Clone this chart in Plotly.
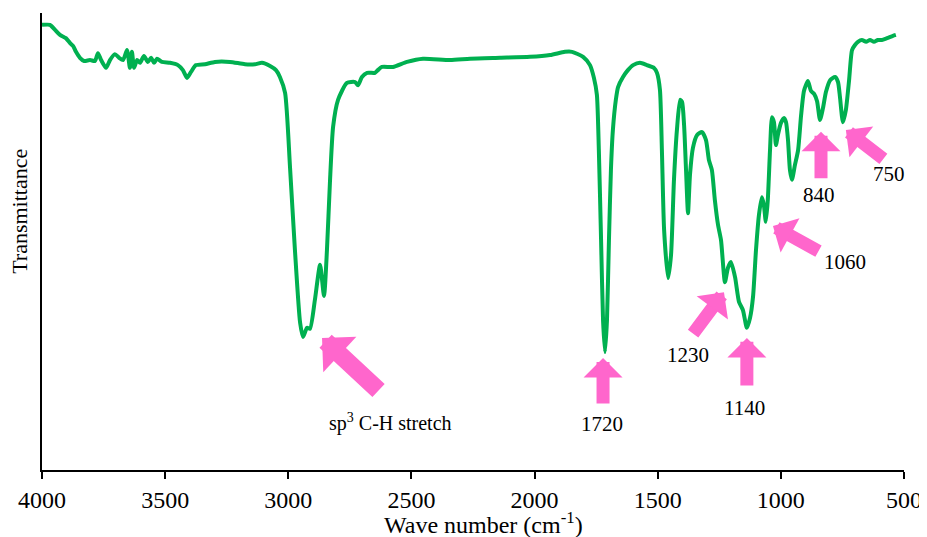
import plotly.graph_objects as go

# Spectrum: wave number (cm-1) and transmittance (arbitrary %)
wavenumber = [4000, 3968, 3947, 3927, 3903, 3886, 3874, 3862, 3846, 3829, 3805, 3785, 3773, 3760, 3740,
              3724, 3704, 3687, 3671, 3655, 3643, 3635, 3626, 3614, 3602, 3586, 3570, 3557, 3545, 3533,
              3513, 3480, 3448, 3428, 3411, 3395, 3375, 3338, 3298, 3237, 3176, 3135, 3107, 3074, 3050,
              3034, 3013, 2993, 2973, 2952, 2940, 2924, 2912, 2892, 2871, 2855, 2843, 2831, 2818, 2798,
              2762, 2729, 2717, 2701, 2680, 2648, 2636, 2620, 2575, 2518, 2453, 2343, 2262, 2140, 2019,
              1937, 1877, 1848, 1803, 1775, 1759, 1747, 1739, 1730, 1722, 1714, 1706, 1698, 1690, 1682,
              1670, 1661, 1641, 1621, 1600, 1572, 1544, 1515, 1503, 1491, 1483, 1474, 1458, 1446, 1434,
              1422, 1409, 1401, 1393, 1385, 1377, 1369, 1357, 1340, 1320, 1304, 1292, 1280, 1268, 1255,
              1243, 1227, 1215, 1203, 1186, 1170, 1154, 1138, 1125, 1113, 1101, 1089, 1077, 1069, 1061,
              1053, 1044, 1036, 1028, 1020, 1012, 1000, 987, 979, 971, 963, 955, 943, 930, 918,
              906, 890, 878, 865, 853, 841, 829, 817, 800, 780, 768, 760, 748, 736, 723,
              711, 699, 687, 671, 654, 638, 622, 606, 590, 569, 545, 533]
transmittance = [97.4, 97.4, 96.3, 95.2, 94.5, 93.4, 92.8, 91.5, 90.2, 89.5, 89.7, 89.5, 91.2, 89.7, 88.0,
                 89.7, 91.0, 90.2, 89.7, 91.9, 88.0, 91.5, 88.0, 89.7, 89.1, 90.6, 89.3, 90.2, 89.1, 90.0,
                 89.3, 89.1, 88.6, 87.5, 85.8, 87.1, 88.6, 88.8, 89.3, 89.3, 88.8, 88.8, 89.1, 88.4, 87.5,
                 86.0, 82.5, 66.3, 48.1, 32.2, 29.1, 31.1, 30.9, 37.2, 44.9, 38.1, 48.1, 62.8, 75.1, 81.0,
                 84.7, 84.9, 84.2, 86.0, 86.9, 86.9, 87.5, 88.2, 88.2, 89.3, 90.0, 89.7, 90.0, 90.2, 90.4,
                 90.8, 91.5, 91.5, 90.4, 88.6, 85.8, 82.1, 70.0, 50.3, 32.8, 25.8, 32.8, 50.3, 65.6, 74.4,
                 81.0, 83.8, 86.0, 87.5, 88.6, 89.1, 88.6, 87.97, 86.9, 83.2, 70.0, 52.5, 42.0, 47.0, 63.5,
                 74.4, 81.0, 80.5, 75.5, 65.6, 56.2, 64.6, 70.5, 73.3, 73.95, 72.2, 67.8, 65.6, 59.1, 53.6,
                 50.3, 41.1, 44.2, 45.5, 42.2, 36.8, 35.0, 31.1, 33.3, 37.9, 48.1, 55.8, 59.7, 58.0, 54.3,
                 59.1, 70.0, 77.2, 76.1, 71.1, 73.3, 75.9, 77.0, 76.1, 72.2, 65.6, 63.5, 66.7, 70.0, 77.5,
                 83.0, 85.1, 83.0, 82.3, 80.7, 76.6, 79.2, 82.7, 85.3, 86.0, 84.9, 81.6, 76.1, 78.8, 85.3,
                 91.9, 93.0, 93.7, 94.1, 93.7, 94.1, 93.7, 94.1, 94.1, 94.5, 95.0, 95.2]

x_ticks = [4000, 3500, 3000, 2500, 2000, 1500, 1000, 500]

# Peak annotations: tip position (wave number, transmittance), label text and label position
peak_tip_wn = [2863, 1722, 1231, 1138, 1032, 837, 736]
peak_tip_t = [28.9, 24.5, 38.9, 28.9, 53.4, 74.0, 74.4]
peak_labels = ["sp<sup>3</sup> C-H stretch", "1720", "1230", "1140", "1060", "840", "750"]
label_wn = [2583, 1726, 1377, 1146, 740, 845, 561]
label_t = [10.5, 10.1, 25.2, 13.6, 45.5, 60.2, 64.8]
arrow_ax = [58, 0, -32, 0, 47, 0, 39]
arrow_ay = [54, 47, 43, 49, 26, 48, 30]
arrow_w = [18, 13, 13, 13, 13, 13, 13]
arrow_size = [0.45, 0.5, 0.5, 0.5, 0.5, 0.5, 0.5]

PINK = "#FF66CC"
GREEN = "#00B050"
FONT = "Liberation Serif, Times New Roman, serif"

fig = go.Figure()
fig.add_trace(go.Scatter(x=wavenumber, y=transmittance, mode="lines",
                         line=dict(color=GREEN, width=4, shape="spline", smoothing=0.6),
                         hoverinfo="skip", showlegend=False))

for i in range(len(peak_tip_wn)):
    fig.add_annotation(x=peak_tip_wn[i], y=peak_tip_t[i], xref="x", yref="y",
                       ax=arrow_ax[i], ay=arrow_ay[i], axref="pixel", ayref="pixel",
                       showarrow=True, arrowhead=1, arrowsize=arrow_size[i], arrowwidth=arrow_w[i],
                       arrowcolor=PINK, text="")
    fig.add_annotation(x=label_wn[i], y=label_t[i], xref="x", yref="y",
                       text=peak_labels[i], showarrow=False,
                       font=dict(family=FONT, size=20 if i == 0 else 21, color="black"),
                       xanchor="center", yanchor="middle")

fig.add_annotation(x=-0.0255, y=0.565, xref="paper", yref="paper", text="Transmittance",
                   showarrow=False, textangle=-90,
                   font=dict(family=FONT, size=22, color="black"),
                   xanchor="center", yanchor="middle")
fig.add_annotation(x=0.512, y=-0.116, xref="paper", yref="paper",
                   text="Wave number (cm<sup>-1</sup>)", showarrow=False,
                   font=dict(family=FONT, size=24, color="black"),
                   xanchor="center", yanchor="middle")

# The page body adds an 8 px offset, so the figure is 8 px smaller and margins shifted.
fig.update_layout(
    width=919, height=529,
    margin=dict(l=34, r=23, t=5, b=67),
    font=dict(family=FONT, color="black"),
    paper_bgcolor="white", plot_bgcolor="white",
    xaxis=dict(range=[4000, 500], tickvals=x_ticks, ticktext=[str(v) for v in x_ticks],
               showline=True, linecolor="black", linewidth=1.5, ticks="outside",
               ticklen=7, tickcolor="black", tickwidth=1.5, showgrid=False, zeroline=False,
               tickfont=dict(family=FONT, size=24, color="black")),
    yaxis=dict(range=[0, 100], showline=True, linecolor="black", linewidth=1.5,
               showticklabels=False, ticks="", showgrid=False, zeroline=False),
)

fig.write_html("out.html")
